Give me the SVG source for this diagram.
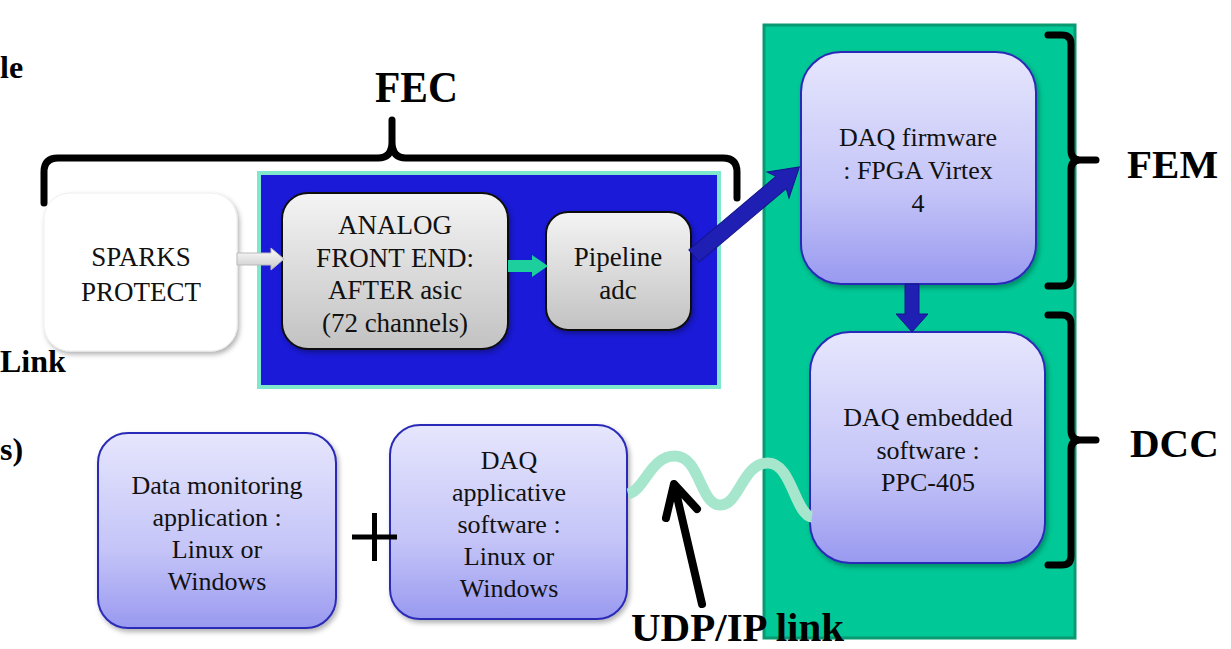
<svg xmlns="http://www.w3.org/2000/svg" width="1231" height="649" viewBox="0 0 1231 649">
<defs>
<linearGradient id="gGray" x1="0" y1="0" x2="0" y2="1"><stop offset="0" stop-color="#f4f4f4"/><stop offset="1" stop-color="#c2c2c2"/></linearGradient>
<linearGradient id="gLav" x1="0" y1="0" x2="0" y2="1"><stop offset="0" stop-color="#e6e6fd"/><stop offset="0.6" stop-color="#c4c4f8"/><stop offset="1" stop-color="#9999f0"/></linearGradient>
<linearGradient id="gWhiteArrow" x1="0" y1="0" x2="0" y2="1"><stop offset="0" stop-color="#ffffff"/><stop offset="1" stop-color="#c8c8c8"/></linearGradient>
<filter id="sh" x="-10%" y="-10%" width="125%" height="125%"><feDropShadow dx="2" dy="3" stdDeviation="2.5" flood-color="#000" flood-opacity="0.3"/></filter>
</defs>
<style>
.ntx{font-family:"Liberation Serif","Times New Roman",serif;font-size:26px;fill:#111;text-anchor:middle}
.s27{font-size:27px}
.big{font-family:"Liberation Serif","Times New Roman",serif;font-weight:bold;font-size:41px;fill:#000}
.cut{font-family:"Liberation Serif","Times New Roman",serif;font-weight:bold;font-size:32px;fill:#000}
.gray{fill:url(#gGray);stroke:#111;stroke-width:2;filter:url(#sh)}
.lav{fill:url(#gLav);stroke:#2b2bb8;stroke-width:2;filter:url(#sh)}
.brace{fill:none;stroke:#000;stroke-width:7;stroke-linecap:round;stroke-linejoin:round}
</style>
<rect width="1231" height="649" fill="#fff"/>

<g id="cut-texts">
<text class="cut" x="0" y="78">le</text>
<text class="cut" x="0" y="372">Link</text>
<text class="cut" x="0" y="460">s)</text>
</g>

<g id="dcc-board">
<rect x="764" y="25" width="311" height="613" fill="#00c896" stroke="#0a9a72" stroke-width="3"/>
</g>

<g id="fec-board">
<rect x="259" y="173" width="460" height="214" fill="#1a1ad8" stroke="#80e8cc" stroke-width="4"/>
</g>

<g id="fec-label">
<path class="brace" d="M44,203 V172 Q44,158 58,158 H378 Q392,158 392,142 V120 M392,142 Q392,158 406,158 H723 Q737,158 737,172 V198"/>
<text class="big" x="375" y="102" style="font-size:45px" textLength="83" lengthAdjust="spacingAndGlyphs">FEC</text>
</g>

<g id="sparks">
<rect x="44" y="193" width="193" height="158" rx="26" fill="#fff" stroke="#eeeeee" stroke-width="1" filter="url(#sh)"/>
<text class="ntx s27" x="141" y="266">SPARKS</text>
<text class="ntx s27" x="141" y="301">PROTECT</text>
</g>

<g id="analog">
<rect class="gray" x="282" y="193" width="226" height="156" rx="26"/>
<text class="ntx s27" x="395" y="234">ANALOG</text>
<text class="ntx s27" x="395" y="267">FRONT END:</text>
<text class="ntx s27" x="395" y="299">AFTER asic</text>
<text class="ntx s27" x="395" y="332">(72 channels)</text>
</g>

<g id="pipeline">
<rect class="gray" x="546" y="212" width="145" height="118" rx="22"/>
<text class="ntx s27" x="618" y="266">Pipeline</text>
<text class="ntx s27" x="618" y="299">adc</text>
</g>

<g id="firmware">
<rect class="lav" x="801" y="52" width="235" height="232" rx="40"/>
<text class="ntx" x="918" y="146">DAQ firmware</text>
<text class="ntx" x="918" y="179">: FPGA Virtex</text>
<text class="ntx" x="918" y="212">4</text>
</g>

<g id="embedded">
<rect class="lav" x="810" y="332" width="235" height="231" rx="40"/>
<text class="ntx" x="928" y="426">DAQ embedded</text>
<text class="ntx" x="928" y="459">software :</text>
<text class="ntx" x="928" y="491">PPC-405</text>
</g>

<g id="monitoring">
<rect class="lav" x="98" y="433" width="238" height="195" rx="30"/>
<text class="ntx" x="217" y="494">Data monitoring</text>
<text class="ntx" x="217" y="526">application :</text>
<text class="ntx" x="217" y="558">Linux or</text>
<text class="ntx" x="217" y="590">Windows</text>
</g>

<g id="applicative">
<rect class="lav" x="390" y="425" width="237" height="194" rx="30"/>
<text class="ntx" x="509" y="469">DAQ</text>
<text class="ntx" x="509" y="501">applicative</text>
<text class="ntx" x="509" y="533">software :</text>
<text class="ntx" x="509" y="565">Linux or</text>
<text class="ntx" x="509" y="597">Windows</text>
</g>

<g id="plus">
<path d="M352,537 H397 M374.5,513 V561" stroke="#000" stroke-width="5" fill="none"/>
</g>

<g id="connectors">
<polygon points="237,253 271,253 271,248 284,259 271,270 271,265 237,265" fill="url(#gWhiteArrow)" stroke="#bbbbbb" stroke-width="1"/>
<polygon points="508,260 532,260 532,255 548,266 532,277 532,272 508,272" fill="#1ccf9c"/>
<g transform="translate(694,256) rotate(-40.2)">
<polygon points="0,-8 114,-8 110,-17 138,0 110,17 114,8 0,8" fill="#1f1fb4" stroke="#15158a" stroke-width="1"/>
</g>
<polygon points="905,284 919,284 919,314 928,314 912,332 896,314 905,314" fill="#1f1fb4" stroke="#15158a" stroke-width="1"/>
<path d="M628,494 C645,490 650,456 675,456 C700,456 700,505 720,505 C740,505 742,463 768,463 C792,463 795,515 812,517" fill="none" stroke="#a6e6cc" stroke-width="11"/>
<path d="M702,604 L675,488 M666,518 L674,484 L697,509" fill="none" stroke="#000" stroke-width="8" stroke-linecap="round" stroke-linejoin="round"/>
</g>

<g id="fem-label">
<path class="brace" d="M1048,35 H1062 Q1071,35 1071,44 V150 Q1071,160 1080,160 H1096 M1080,160 Q1071,160 1071,170 V277 Q1071,286 1062,286 H1048"/>
<text class="big" x="1127" y="178">FEM</text>
</g>

<g id="dcc-label">
<path class="brace" d="M1048,315 H1062 Q1071,315 1071,324 V430 Q1071,440 1080,440 H1096 M1080,440 Q1071,440 1071,450 V556 Q1071,565 1062,565 H1048"/>
<text class="big" x="1130" y="457">DCC</text>
</g>

<g id="udp-label">
<text class="big" x="631" y="641">UDP/IP link</text>
</g>
</svg>
